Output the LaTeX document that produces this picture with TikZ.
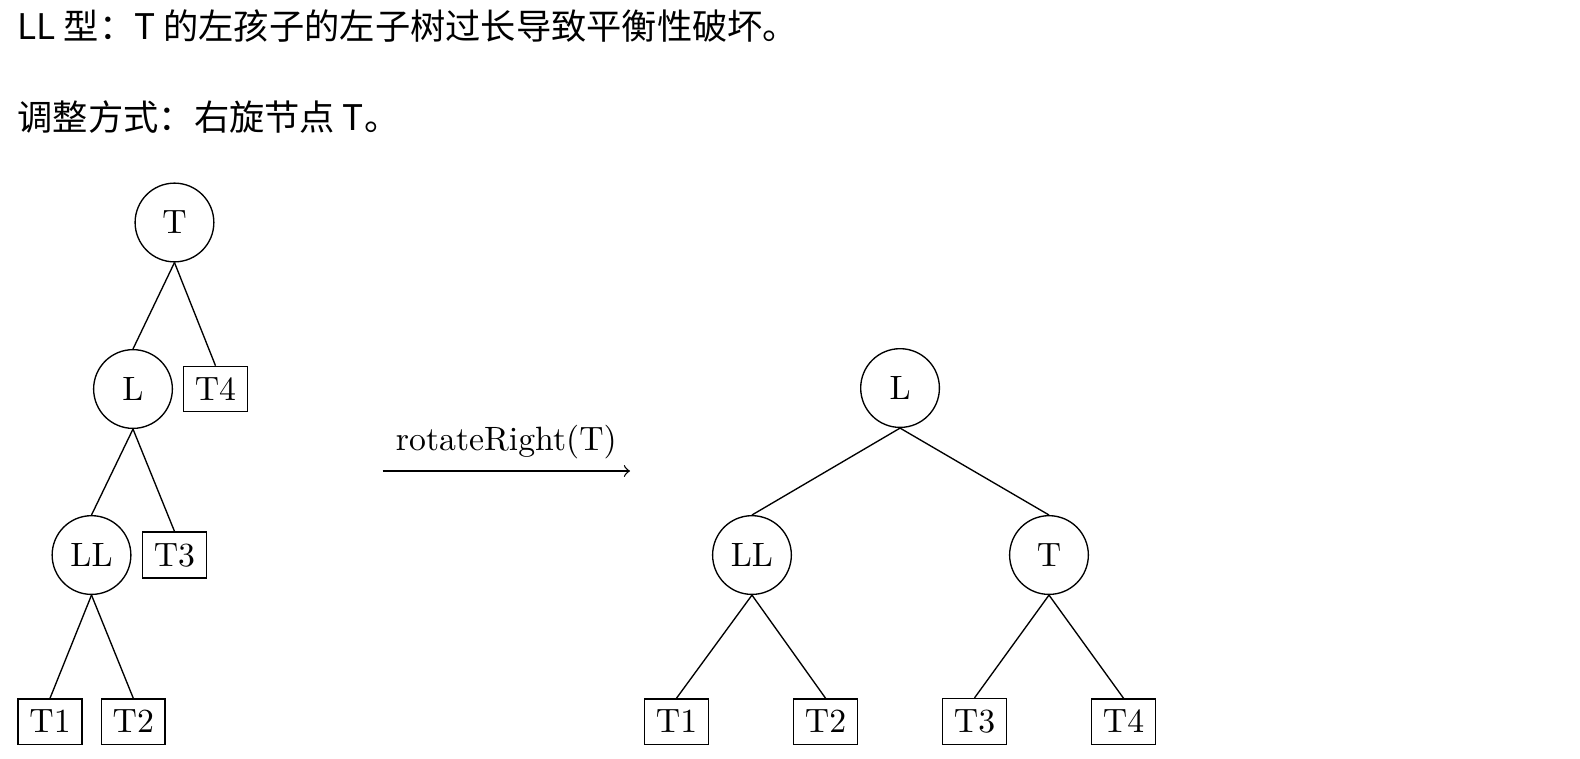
\documentclass[tikz,border=0pt]{standalone}
\usepackage{fontspec}
\newfontfamily\cjk{Noto Sans CJK SC}
\usepackage{tikz}

\begin{document}
\begin{tikzpicture}[
    vertex/.style={circle, draw, minimum size=8.2mm, inner sep=0pt},
    subtree/.style={rectangle, draw},
    caption/.style={anchor=base west, inner sep=0pt, font=\cjk\fontsize{10.45pt}{12pt}\selectfont}
  ]
    \useasboundingbox (0,0) rectangle (16.454,-7.894);

    % Add text lines
    \node[caption] (line1) at (0.177,-0.411) {LL 型：T 的左孩子的左子树过长导致平衡性破坏。};
    \node[caption] (line2) at (0.177,-1.364) {调整方式：右旋节点 T。};

    % Tree before the rotation
    \node[vertex] (aT) at (1.817,-2.317) {T};
    \node[vertex] (aL) at (1.385,-4.051) {L};
    \node[subtree] (aT4) at (2.244,-4.051) {T4};
    \node[vertex] (aLL) at (0.953,-5.780) {LL};
    \node[subtree] (aT3) at (1.817,-5.780) {T3};
    \node[subtree] (aT1) at (0.521,-7.514) {T1};
    \node[subtree] (aT2) at (1.388,-7.514) {T2};

    % Tree after the rotation
    \node[vertex] (bL) at (9.373,-4.041) {L};
    \node[vertex] (bLL) at (7.831,-5.780) {LL};
    \node[vertex] (bT) at (10.924,-5.780) {T};
    \node[subtree] (bT1) at (7.045,-7.514) {T1};
    \node[subtree] (bT2) at (8.597,-7.514) {T2};
    \node[subtree] (bT3) at (10.149,-7.514) {T3};
    \node[subtree] (bT4) at (11.700,-7.514) {T4};

    % Draw edges from parent to child
    \foreach \p/\c in {aT/aL, aT/aT4, aL/aLL, aL/aT3, aLL/aT1, aLL/aT2,
                       bL/bLL, bL/bT, bLL/bT1, bLL/bT2, bT/bT3, bT/bT4} {
        \draw (\p.south) -- (\c.north);
    }

    % Draw the rotation arrow
    \coordinate (from) at (3.985,-4.905);
    \coordinate (to) at (6.561,-4.905);
    \draw[->] (from) -- (to) node[midway, above] (rot) {rotateRight(T)};
\end{tikzpicture}
\end{document}
